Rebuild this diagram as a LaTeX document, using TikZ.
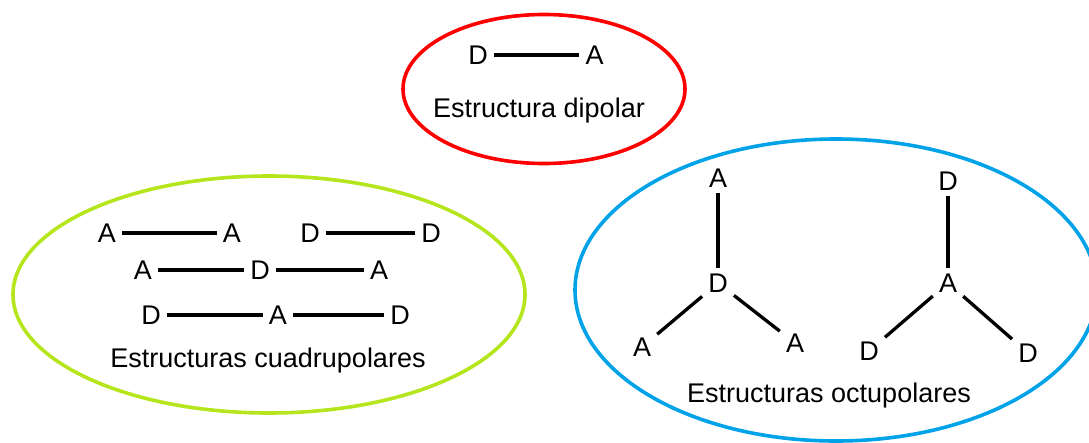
\documentclass[tikz,border=0pt]{standalone}
\usepackage{fontspec}
\setmainfont{Liberation Sans}
\definecolor{ringred}{RGB}{255,0,0}
\definecolor{ringgreen}{RGB}{181,230,29}
\definecolor{ringblue}{RGB}{0,162,232}
\begin{document}
\begin{tikzpicture}[x=1pt,y=-1pt,
  lett/.style={inner xsep=6pt, inner ysep=6pt, font=\fontsize{27}{32}\selectfont},
  capt/.style={anchor=base, inner sep=0pt, font=\fontsize{27}{32}\selectfont},
  bond/.style={line width=3.3pt},
  ring/.style={line width=3.6pt}]
\useasboundingbox (0,0) rectangle (1089,442);
\clip (0,0) rectangle (1089,442);
% ellipses
\draw[ring, draw=ringred] (544,89) ellipse [x radius=141pt, y radius=74.5pt];
\draw[ring, draw=ringgreen] (269,294.5) ellipse [x radius=256pt, y radius=118.5pt];
\draw[ring, draw=ringblue] (836,290) ellipse [x radius=261pt, y radius=151pt];
% dipolar
\node[lett] (d1) at (478,55) {D};
\node[lett] (a1) at (594.5,55) {A};
\draw[bond] (d1) -- (a1);
\node[capt] (cap1) at (539,117) {Estructura dipolar};
% quadrupolar
\node[lett] (q1a) at (107,233) {A};
\node[lett] (q1b) at (232,233) {A};
\node[lett] (q1c) at (310,233) {D};
\node[lett] (q1d) at (431,233) {D};
\draw[bond] (q1a) -- (q1b);
\draw[bond] (q1c) -- (q1d);
\node[lett] (q2a) at (143,270) {A};
\node[lett] (q2b) at (260,270) {D};
\node[lett] (q2c) at (379,270) {A};
\draw[bond] (q2a) -- (q2b);
\draw[bond] (q2b) -- (q2c);
\node[lett] (q3a) at (151,315) {D};
\node[lett] (q3b) at (278,315) {A};
\node[lett] (q3c) at (400,315) {D};
\draw[bond] (q3a) -- (q3b);
\draw[bond] (q3b) -- (q3c);
\node[capt] (cap2) at (268,367) {Estructuras cuadrupolares};
% octupolar left
\node[lett] (o1t) at (718,178) {A};
\node[lett] (o1c) at (718,283) {D};
\node[lett] (o1l) at (642,347) {A};
\node[lett] (o1r) at (795,343) {A};
\draw[bond] (o1t) -- (o1c);
\draw[bond] (o1c) -- (o1l);
\draw[bond] (o1c) -- (o1r);
% octupolar right
\node[lett] (o2t) at (948,181) {D};
\node[lett] (o2c) at (948,283) {A};
\node[lett] (o2l) at (869,351) {D};
\node[lett] (o2r) at (1028,353) {D};
\draw[bond] (o2t) -- (o2c);
\draw[bond] (o2c) -- (o2l);
\draw[bond] (o2c) -- (o2r);
\node[capt] (cap3) at (829,402) {Estructuras octupolares};
\end{tikzpicture}
\end{document}
